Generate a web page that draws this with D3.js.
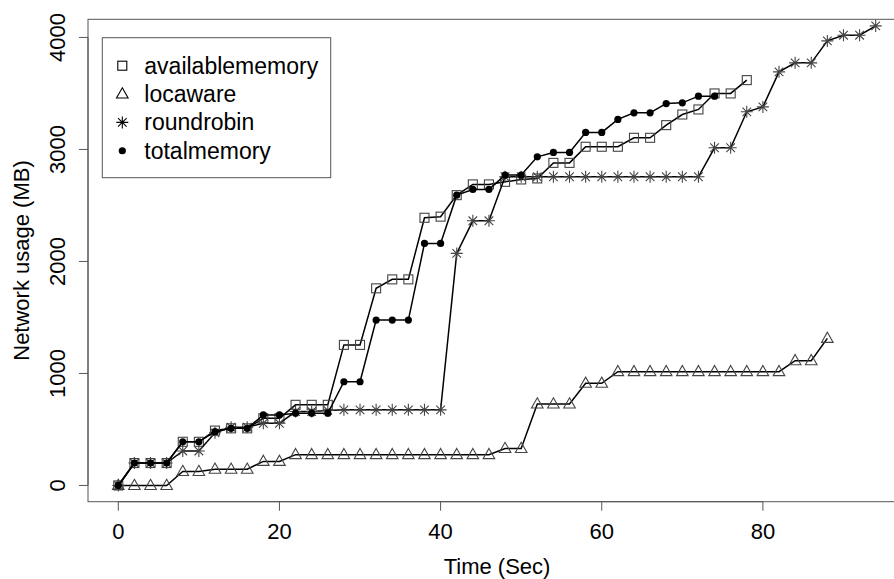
<!DOCTYPE html>
<html lang="en">
	<head>
		<meta charset="UTF-8" />
		<title>Network usage</title>
		<script src="https://d3js.org/d3.v7.min.js"></script>
		<style>
			body {
				margin: 0;
				background: #fff;
			}
			svg {
				font-family: 'Liberation Sans', Arial, Helvetica, sans-serif;
			}
			.series path.line {
				fill: none;
				stroke: #000;
				stroke-width: 1.5;
			}
		</style>
	</head>
	<body>
		<svg id="chart" width="894" height="579"></svg>

		<script>
			// values, one point every 2 seconds
			var availablememory = [0, 200, 200, 200, 390, 390, 490, 510, 510, 600, 600, 720, 720, 720, 1255, 1255, 1760, 1840, 1840, 2390, 2400, 2592, 2688, 2688, 2711, 2732, 2741, 2880, 2880, 3024, 3024, 3024, 3104, 3104, 3217, 3312, 3357, 3500, 3500, 3619]
			var locaware = [0, 0, 0, 0, 125, 125, 145, 145, 145, 215, 215, 275, 275, 275, 275, 275, 275, 275, 275, 275, 275, 275, 275, 275, 330, 330, 727, 727, 727, 912, 912, 1016, 1016, 1016, 1016, 1016, 1016, 1016, 1016, 1016, 1016, 1016, 1114, 1114, 1313]
			var roundrobin = [0, 200, 200, 200, 308, 308, 470, 520, 520, 555, 555, 660, 660, 670, 675, 675, 675, 675, 675, 675, 675, 2072, 2363, 2363, 2756, 2756, 2756, 2756, 2756, 2756, 2756, 2756, 2756, 2756, 2756, 2756, 2756, 3015, 3015, 3336, 3380, 3693, 3773, 3773, 3969, 4020, 4020, 4103]
			var totalmemory = [0, 200, 200, 200, 390, 390, 480, 510, 510, 630, 630, 645, 645, 645, 926, 926, 1477, 1477, 1477, 2161, 2161, 2592, 2643, 2643, 2771, 2771, 2934, 2973, 2973, 3152, 3152, 3268, 3327, 3327, 3410, 3416, 3476, 3476]

			var seriesNames = ['availablememory', 'locaware', 'roundrobin', 'totalmemory']
			var seriesShapes = ['square', 'triangle', 'star', 'dot']
			var xTicks = [0, 20, 40, 60, 80]
			var yTicks = [0, 1000, 2000, 3000, 4000]
			var step = 2

			var series = [availablememory, locaware, roundrobin, totalmemory].map(function (vals, i) {
				return {
					name: seriesNames[i],
					shape: seriesShapes[i],
					points: vals.map(function (v, j) {
						return { t: j * step, v: v }
					})
				}
			})

			// plot region (box runs off the right edge like in the original)
			var boxLeft = 88,
				boxRight = 906,
				boxTop = 19.3,
				boxBottom = 501.7

			var x = d3.scaleLinear().domain([-3.76, 97.76]).range([boxLeft, boxRight])
			var y = d3.scaleLinear().domain([-145, 4162]).range([boxBottom, boxTop])

			var svg = d3.select('#chart')

			// box
			svg
				.append('rect')
				.attr('x', boxLeft)
				.attr('y', boxTop)
				.attr('width', boxRight - boxLeft)
				.attr('height', boxBottom - boxTop)
				.attr('fill', 'none')
				.attr('stroke', '#555')
				.attr('stroke-width', 1)

			// x axis (line only between first and last tick, like R)
			var xAxis = svg.append('g').attr('transform', 'translate(0,' + boxBottom + ')')
			xAxis
				.append('line')
				.attr('x1', x(xTicks[0]))
				.attr('x2', x(xTicks[xTicks.length - 1]))
				.attr('stroke', '#555')
			xAxis
				.selectAll('line.tick')
				.data(xTicks)
				.enter()
				.append('line')
				.attr('class', 'tick')
				.attr('x1', x)
				.attr('x2', x)
				.attr('y1', 0)
				.attr('y2', 9)
				.attr('stroke', '#555')
			xAxis
				.selectAll('text')
				.data(xTicks)
				.enter()
				.append('text')
				.attr('x', x)
				.attr('y', 37)
				.attr('text-anchor', 'middle')
				.attr('font-size', 22)
				.text(function (d) {
					return d
				})

			// y axis
			var yAxis = svg.append('g').attr('transform', 'translate(' + boxLeft + ',0)')
			yAxis
				.append('line')
				.attr('y1', y(yTicks[0]))
				.attr('y2', y(yTicks[yTicks.length - 1]))
				.attr('stroke', '#555')
			yAxis
				.selectAll('line.tick')
				.data(yTicks)
				.enter()
				.append('line')
				.attr('class', 'tick')
				.attr('y1', y)
				.attr('y2', y)
				.attr('x1', 0)
				.attr('x2', -9)
				.attr('stroke', '#555')
			yAxis
				.selectAll('text')
				.data(yTicks)
				.enter()
				.append('text')
				.attr('transform', function (d) {
					return 'translate(-23.5,' + y(d) + ') rotate(-90)'
				})
				.attr('text-anchor', 'middle')
				.attr('font-size', 22)
				.text(function (d) {
					return d
				})

			// axis titles
			svg
				.append('text')
				.attr('x', (boxLeft + boxRight) / 2)
				.attr('y', 574)
				.attr('text-anchor', 'middle')
				.attr('font-size', 22)
				.text('Time (Sec)')
			svg
				.append('text')
				.attr('transform', 'translate(29,' + (boxTop + boxBottom) / 2 + ') rotate(-90)')
				.attr('text-anchor', 'middle')
				.attr('font-size', 22)
				.text('Network usage (MB)')

			// marker drawing
			function drawMarker(sel, shape, stroke) {
				if (shape === 'square') {
					sel
						.append('rect')
						.attr('x', -4.5)
						.attr('y', -4.5)
						.attr('width', 9)
						.attr('height', 9)
						.attr('fill', 'none')
						.attr('stroke', stroke)
						.attr('stroke-width', 1.1)
				} else if (shape === 'triangle') {
					sel
						.append('path')
						.attr('d', 'M0,-6.2L5.8,4L-5.8,4Z')
						.attr('fill', 'none')
						.attr('stroke', stroke)
						.attr('stroke-width', 1.1)
				} else if (shape === 'star') {
					sel
						.append('path')
						.attr('d', 'M-6,0H6M0,-6V6M-4.3,-4.3L4.3,4.3M-4.3,4.3L4.3,-4.3')
						.attr('fill', 'none')
						.attr('stroke', stroke)
						.attr('stroke-width', 1.1)
				} else {
					sel.append('circle').attr('r', 3.6).attr('fill', '#000')
				}
			}

			var line = d3
				.line()
				.x(function (d) {
					return x(d.t)
				})
				.y(function (d) {
					return y(d.v)
				})

			var groups = svg
				.selectAll('g.series')
				.data(series)
				.enter()
				.append('g')
				.attr('class', 'series')

			groups
				.append('path')
				.attr('class', 'line')
				.attr('d', function (d) {
					return line(d.points)
				})

			groups.each(function (s) {
				d3.select(this)
					.selectAll('g.pt')
					.data(s.points)
					.enter()
					.append('g')
					.attr('class', 'pt')
					.attr('transform', function (d) {
						return 'translate(' + x(d.t) + ',' + y(d.v) + ')'
					})
					.each(function () {
						drawMarker(d3.select(this), s.shape, '#444')
					})
			})

			// legend
			var legend = svg.append('g')
			legend
				.append('rect')
				.attr('x', 102.3)
				.attr('y', 37.7)
				.attr('width', 228.4)
				.attr('height', 140)
				.attr('fill', '#fff')
				.attr('stroke', '#555')
			var rows = legend
				.selectAll('g.row')
				.data(series)
				.enter()
				.append('g')
				.attr('class', 'row')
				.attr('transform', function (d, i) {
					return 'translate(122.3,' + (65.7 + i * 28.35) + ')'
				})
			rows.each(function (s) {
				drawMarker(d3.select(this), s.shape, '#000')
			})
			rows
				.append('text')
				.attr('x', 22)
				.attr('dy', '0.35em')
				.attr('font-size', 23)
				.text(function (d) {
					return d.name
				})
		</script>
	</body>
</html>
